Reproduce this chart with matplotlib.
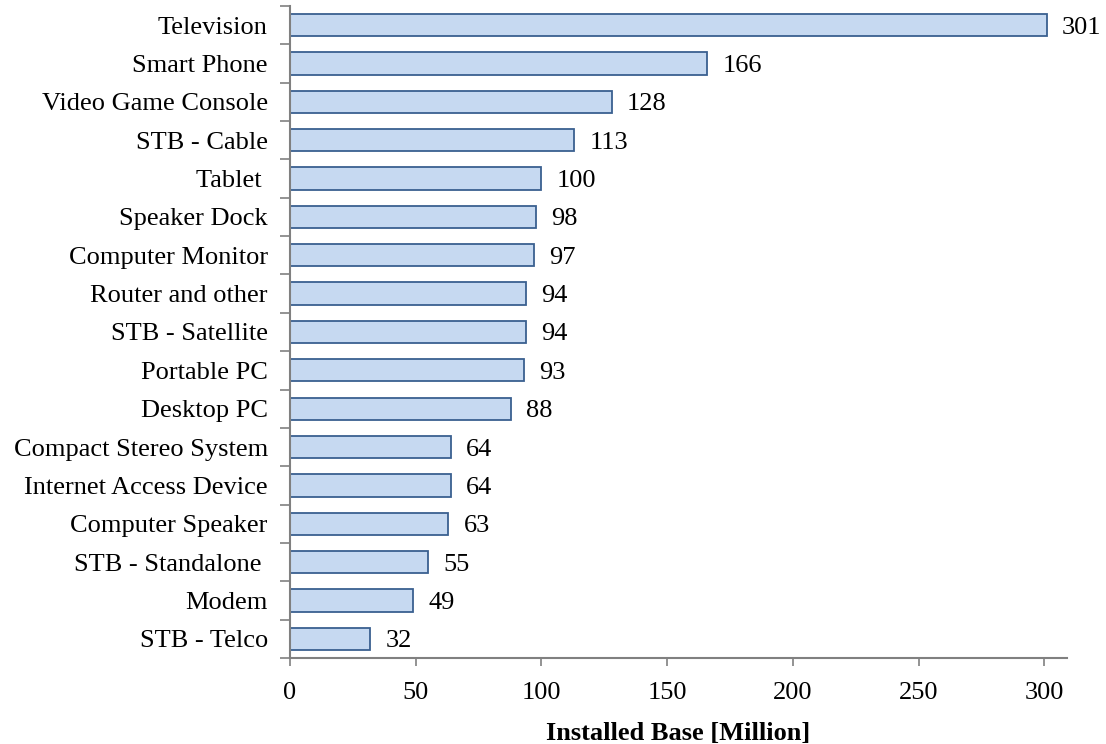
import numpy as np
import matplotlib.pyplot as plt

# Installed base per device category, in millions
devices = [
    "Television", "Smart Phone", "Video Game Console", "STB - Cable", "Tablet ",
    "Speaker Dock", "Computer Monitor", "Router and other", "STB - Satellite",
    "Portable PC", "Desktop PC", "Compact Stereo System", "Internet Access Device",
    "Computer Speaker", "STB - Standalone ", "Modem", "STB - Telco",
]
installed = [301, 166, 128, 113, 100, 98, 97, 94, 94, 93, 88, 64, 64, 63, 55, 49, 32]

plt.rcParams['font.family'] = ['Liberation Serif', 'DejaVu Serif']
FS = 19

fig = plt.figure(figsize=(11.06, 7.44), dpi=100)
ax = fig.add_axes([0.2622, 0.1156, 0.7025, 0.8764])

pos = np.arange(len(devices))
ax.barh(pos, installed, height=0.58, color='#C6D9F1', edgecolor='#3A6090', linewidth=1.3)

for y, v in zip(pos, installed):
    ax.text(v + 6, y, str(v), va='center_baseline', ha='left', fontsize=FS)

ax.set_ylim(len(devices) - 0.5, -0.5)
ax.set_xlim(0, 309)
ax.set_yticks(pos)
ax.set_yticklabels(devices, fontsize=FS)
ax.set_yticks(np.arange(len(devices) + 1) - 0.5, minor=True)
ax.tick_params(axis='y', which='major', length=0, pad=16)
ax.tick_params(axis='y', which='minor', length=7, width=1.2, color='#808080')

ax.set_xticks([0, 50, 100, 150, 200, 250, 300])
ax.tick_params(axis='x', length=6, width=1.2, color='#808080', labelsize=FS, pad=11)

for side in ('top', 'right'):
    ax.spines[side].set_visible(False)
for side in ('left', 'bottom'):
    ax.spines[side].set_color('#808080')
    ax.spines[side].set_linewidth(1.5)

ax.set_xlabel('Installed Base [Million]', fontsize=FS, fontweight='bold', labelpad=13)

fig.savefig('out.png', dpi=100)
